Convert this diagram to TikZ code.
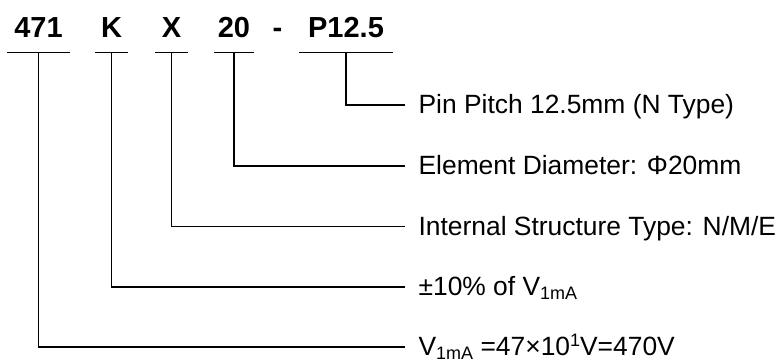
\documentclass[tikz,border=0pt]{standalone}
\usepackage{fontspec}
\setmainfont{Liberation Sans}
\newcommand\lowtxt[1]{\raisebox{-4pt}{\fontsize{18}{20}\selectfont #1}}
\newcommand\hightxt[1]{\raisebox{9pt}{\fontsize{18}{20}\selectfont #1}}
\begin{document}
\begin{tikzpicture}[x=1pt,y=-1pt,line width=1.2pt,
	code/.style={font=\fontsize{29}{32}\selectfont\bfseries,anchor=base,inner xsep=0pt,inner ysep=14pt,text depth=0pt},
	desc/.style={font=\fontsize{26.4}{30}\selectfont,anchor=west,inner xsep=13pt,inner ysep=0pt,text height=17.5pt,text depth=0pt}]
	\useasboundingbox (0,0) rectangle (779,361);
	%Code
	\node[code,minimum width=61] (c471) at (38.5,38) {471};
	\node[code,minimum width=31] (cK) at (111.5,38) {K};
	\node[code,minimum width=31] (cX) at (171.5,38) {X};
	\node[code,minimum width=38] (c20) at (234,38) {20};
	\node[code] (hyph) at (277.5,38) {-};
	\node[code,minimum width=92] (cP) at (346,38) {P12.5};
	\foreach \n in {c471,cK,cX,c20,cP} {
		\draw (\n.south west)--(\n.south east);
	}
	%Meaning
	\node[desc] (dP) at (405,105) {Pin Pitch 12.5mm (N Type)};
	\node[desc] (d20) at (405,166) {Element Diameter: Φ20mm};
	\node[desc] (dX) at (405,226.5) {Internal Structure Type: N/M/E};
	\node[desc] (dK) at (405,287) {±10\% of V\lowtxt{1mA}};
	\node[desc] (d471) at (405,347) {V\lowtxt{1mA} =47×10\hightxt{1}V=470V};
	%Lines
	\foreach \a/\b in {cP/dP, c20/d20, cX/dX, cK/dK, c471/d471} {
		\draw (\a.south)|-(\b.west);
	}
\end{tikzpicture}
\end{document}
